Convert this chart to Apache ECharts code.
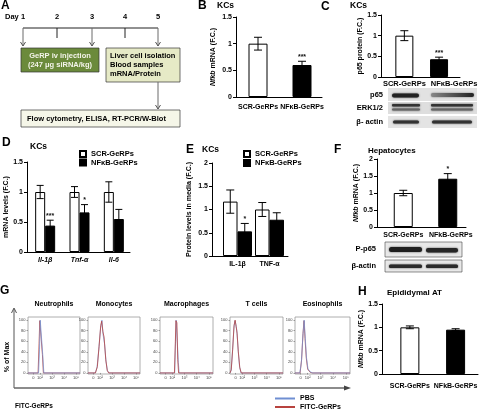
<!DOCTYPE html>
<html><head><meta charset="utf-8">
<script src="https://cdn.jsdelivr.net/npm/echarts@6/dist/echarts.min.js"></script>
<style>html,body{margin:0;padding:0;background:#fff}#c{width:480px;height:419px}</style>
</head><body><div id="c"></div>
<script>
const FONT = '"Liberation Sans", Arial, Helvetica, sans-serif';

// ---------------- DATA ----------------
const groupNames = ['SCR-GeRPs', 'NFκB-GeRPs'];
const groupNamesH = ['SCR-GeRPs', 'NFkB-GeRPs'];
const bMean = [1.0, 0.6], bErr = [0.12, 0.07], bSig = ['', '***'];
const cMean = [1.0, 0.43], cErr = [0.12, 0.05], cSig = ['', '***'];
const dCats = ['Il-1β', 'Tnf-α', 'Il-6'];
const dScr = [1.0, 1.0, 1.0], dScrErr = [0.11, 0.09, 0.17];
const dNfkb = [0.44, 0.66, 0.55], dNfkbErr = [0.09, 0.13, 0.16], dSig = ['***', '*', ''];
const eCats = ['IL-1β', 'TNF-α'];
const eScr = [1.17, 1.0], eScrErr = [0.25, 0.15];
const eNfkb = [0.53, 0.78], eNfkbErr = [0.17, 0.15], eSig = ['*', ''];
const fMean = [1.0, 1.42], fErr = [0.08, 0.15], fSig = ['', '*'];
const hMean = [1.0, 0.95], hErr = [0.03, 0.02], hSig = ['', ''];
const dayLabels = ['1', '2', '3', '4', '5'];
const cellTypes = ['Neutrophils', 'Monocytes', 'Macrophages', 'T cells', 'Eosinophils'];
const histTickPos = [1.45, 2, 3, 4, 5];
const histTickLabels = ['0', '10²', '10³', '10⁴', '10⁵'];
const histYTicks = [0, 20, 40, 60, 80, 100];
const histPBS = [
  [[1,0],[1.88,0],[1.96,45],[2.02,100],[2.16,98],[2.24,30],[2.32,0],[5.33,0]],
  [[1,0],[1.6,0],[1.75,10],[1.9,45],[2.05,85],[2.16,100],[2.26,72],[2.38,55],[2.5,22],[2.62,4],[2.75,0],[5.33,0]],
  [[1,0],[2.2,0],[2.27,60],[2.32,100],[2.42,97],[2.5,20],[2.56,0],[5.33,0]],
  [[1,0],[1.1,5],[1.2,40],[1.32,85],[1.4,99],[1.48,92],[1.56,80],[1.66,45],[1.78,12],[1.9,0],[5.33,0]],
  [[1,0],[1.38,0],[1.5,20],[1.62,70],[1.72,100],[1.8,70],[1.9,30],[2.02,8],[2.2,2],[2.4,0],[5.33,0]]
];
const histFITC = [
  [[1,0],[1.84,0],[1.92,55],[1.98,99],[2.12,100],[2.2,35],[2.28,0],[5.33,0]],
  [[1,0],[1.62,0],[1.78,12],[1.92,50],[2.06,90],[2.14,98],[2.24,78],[2.34,68],[2.48,25],[2.6,5],[2.72,0],[5.33,0]],
  [[1,0],[2.18,0],[2.25,55],[2.3,99],[2.38,95],[2.45,25],[2.52,0],[5.33,0]],
  [[1,0],[1.1,6],[1.22,45],[1.33,90],[1.42,100],[1.5,88],[1.58,75],[1.68,40],[1.8,10],[1.92,0],[5.33,0]],
  [[1,0],[1.4,0],[1.52,25],[1.63,75],[1.71,99],[1.79,65],[1.89,28],[2.0,7],[2.2,1],[2.4,0],[5.33,0]]
];

// ---------------- BUILD ----------------
const grid = [], xAxis = [], yAxis = [], series = [], legend = [], G = [];
const WHITE = '#ffffff', BLACK = '#000000';

function errRender(offset, sigs, cap) {
  return function (params, api) {
    const cat = api.value(0), m = api.value(1), e = api.value(2);
    const top = api.coord([cat, m + e]), bot = api.coord([cat, m - e]);
    const x = top[0] + offset;
    const st = { stroke: '#000', lineWidth: 1 };
    const ch = [
      { type: 'line', shape: { x1: x, y1: top[1], x2: x, y2: bot[1] }, style: st },
      { type: 'line', shape: { x1: x - cap, y1: top[1], x2: x + cap, y2: top[1] }, style: st },
      { type: 'line', shape: { x1: x - cap, y1: bot[1], x2: x + cap, y2: bot[1] }, style: st }
    ];
    const s = sigs[params.dataIndex];
    if (s) ch.push({ type: 'text', x: x, y: top[1] - 1, style: { text: s, fill: '#111', font: 'bold 7px ' + FONT, align: 'center', verticalAlign: 'bottom' } });
    return { type: 'group', children: ch };
  };
}

function barPanel(cfg) {
  const gi = grid.length;
  grid.push({ left: cfg.axisLeft, top: cfg.top, width: cfg.axisRight - cfg.axisLeft, height: cfg.height });
  xAxis.push({ gridIndex: gi, type: 'value', min: 0, max: 1, axisLine: { show: true, onZero: false, lineStyle: { color: '#000', width: 1 } },
    axisTick: { show: false }, axisLabel: { show: false }, splitLine: { show: false } });
  yAxis.push({ gridIndex: gi, type: 'value', min: 0, max: cfg.ymax, interval: 0.5,
    axisLine: { show: true, lineStyle: { color: '#000', width: 1 } },
    axisTick: { show: true, length: 3, lineStyle: { color: '#000' } },
    axisLabel: { fontFamily: FONT, fontWeight: 'bold', fontSize: 7, color: '#000', margin: 4 },
    splitLine: { show: false },
    name: cfg.yName, nameLocation: 'middle', nameGap: cfg.nameGap,
    nameTextStyle: { fontFamily: FONT, fontWeight: 'bold', fontSize: 7, color: '#000',
      rich: { i: { fontFamily: FONT, fontWeight: 'bold', fontStyle: 'italic', fontSize: 7, color: '#000' },
              n: { fontFamily: FONT, fontWeight: 'bold', fontSize: 7, color: '#000' } } } });
  const pi = grid.length;
  grid.push({ left: cfg.plotLeft, top: cfg.top, width: cfg.plotWidth, height: cfg.height });
  xAxis.push({ gridIndex: pi, type: 'category', data: cfg.cats, axisLine: { show: false }, axisTick: { show: false },
    axisLabel: Object.assign({ fontFamily: FONT, fontWeight: 'bold', fontSize: cfg.catFont, color: '#000', margin: cfg.catMargin,
      fontStyle: cfg.catItalic ? 'italic' : 'normal', interval: 0 }, cfg.catLabelExtra || {}) });
  yAxis.push({ gridIndex: pi, type: 'value', min: 0, max: cfg.ymax, show: false });
  cfg.series.forEach(s => {
    series.push({ type: 'bar', name: s.name, xAxisIndex: pi, yAxisIndex: pi, barWidth: cfg.barWidth, barGap: '0%',
      itemStyle: { color: s.colors[0], borderColor: '#000', borderWidth: 1 },
      data: s.values.map((v, i) => ({ value: v, itemStyle: { color: s.colors[i], borderColor: '#000', borderWidth: 1 } })) });
    series.push({ type: 'custom', xAxisIndex: pi, yAxisIndex: pi, z: 5, encode: { x: 0, y: 1 },
      renderItem: errRender(s.offset, s.sigs, cfg.cap),
      data: s.values.map((v, i) => [i, v, s.errs[i]]) });
  });
}

function shiftedLabels(size, pad) {
  return { formatter: (v, i) => i === 0 ? '{a|' + v + '}' : '{b|' + v + '}',
    rich: { a: { fontFamily: FONT, fontWeight: 'bold', fontSize: size, color: '#000' },
            b: { fontFamily: FONT, fontWeight: 'bold', fontSize: size, color: '#000', padding: [0, 0, 0, pad] } } };
}

// B
barPanel({ axisLeft: 236, axisRight: 322, top: 17, height: 80, ymax: 1.5, yName: '{i|Nfkb}{n| mRNA (F.C.)}', nameGap: 19,
  plotLeft: 236, plotWidth: 88, cats: groupNames, catFont: 7, catMargin: 7, barWidth: 19, cap: 4,
  series: [{ name: 'B', values: bMean, errs: bErr, sigs: bSig, colors: [WHITE, BLACK], offset: 0 }] });
// C
barPanel({ axisLeft: 381, axisRight: 460, top: 15, height: 62, ymax: 1.5, yName: 'p65 protein (F.C.)', nameGap: 17,
  plotLeft: 387, plotWidth: 71, cats: groupNames, catFont: 7.5, catMargin: 3, barWidth: 18, cap: 4,
  catLabelExtra: shiftedLabels(7.5, 30),
  series: [{ name: 'C', values: cMean, errs: cErr, sigs: cSig, colors: [WHITE, BLACK], offset: 0 }] });
// D
barPanel({ axisLeft: 27, axisRight: 130, top: 162, height: 90, ymax: 1.5, yName: 'mRNA levels (F.C.)', nameGap: 15,
  plotLeft: 28, plotWidth: 103, cats: dCats, catFont: 7, catMargin: 5, catItalic: true, barWidth: 10, cap: 3.5,
  series: [{ name: groupNames[0], values: dScr, errs: dScrErr, sigs: ['', '', ''], colors: [WHITE, WHITE, WHITE], offset: -5 },
           { name: groupNames[1], values: dNfkb, errs: dNfkbErr, sigs: dSig, colors: [BLACK, BLACK, BLACK], offset: 5 }] });
// E
barPanel({ axisLeft: 212, axisRight: 288, top: 163, height: 93, ymax: 2, yName: 'Protein levels in media (F.C.)', nameGap: 19,
  plotLeft: 221.5, plotWidth: 64, cats: eCats, catFont: 7, catMargin: 5, barWidth: 14.5, cap: 4,
  series: [{ name: groupNames[0], values: eScr, errs: eScrErr, sigs: ['', ''], colors: [WHITE, WHITE], offset: -7.25 },
           { name: groupNames[1], values: eNfkb, errs: eNfkbErr, sigs: eSig, colors: [BLACK, BLACK], offset: 7.25 }] });
// F
barPanel({ axisLeft: 377, axisRight: 466, top: 159, height: 68, ymax: 2, yName: '{i|Nfkb}{n| mRNA (F.C.)}', nameGap: 17,
  plotLeft: 381, plotWidth: 89, cats: groupNamesH, catFont: 7, catMargin: 5, barWidth: 19, cap: 4,
  catLabelExtra: shiftedLabels(7, 6),
  series: [{ name: 'F', values: fMean, errs: fErr, sigs: fSig, colors: [WHITE, BLACK], offset: 0 }] });
// H
barPanel({ axisLeft: 382, axisRight: 478, top: 304, height: 70, ymax: 1.5, yName: '{i|Nfkb}{n| mRNA (F.C.)}', nameGap: 12,
  plotLeft: 387, plotWidth: 93, cats: groupNamesH, catFont: 7, catMargin: 9, barWidth: 19, cap: 4,
  series: [{ name: 'H', values: hMean, errs: hErr, sigs: hSig, colors: [WHITE, BLACK], offset: 0 }] });

// G histograms
const histLayout = [[28, 52], [88, 52], [160, 53], [230, 53], [295, 55]];
histLayout.forEach((g, k) => {
  const gi = grid.length;
  grid.push({ left: g[0], top: 317, width: g[1], height: 57, show: true, borderColor: '#9a9a9a', borderWidth: 0.8, backgroundColor: 'rgba(0,0,0,0)' });
  xAxis.push({ gridIndex: gi, type: 'value', min: 1, max: 5.33, axisLine: { show: false }, splitLine: { show: false },
    axisTick: { show: true, customValues: histTickPos, length: 1.5, lineStyle: { color: '#666', width: 0.6 } },
    axisLabel: { customValues: histTickPos, formatter: v => histTickLabels[histTickPos.indexOf(v)], fontFamily: FONT, fontSize: 4, color: '#444', margin: 2 } });
  yAxis.push({ gridIndex: gi, type: 'value', min: -2, max: 106, axisLine: { show: false }, splitLine: { show: false },
    axisTick: { show: true, customValues: histYTicks, length: 1.5, lineStyle: { color: '#666', width: 0.6 } },
    axisLabel: { customValues: histYTicks, fontFamily: FONT, fontSize: 4, color: '#444', margin: 2.5 } });
  series.push({ type: 'line', name: 'FITC-GeRPs', xAxisIndex: gi, yAxisIndex: gi, data: histFITC[k], showSymbol: false,
    lineStyle: { color: '#b8433f', width: 0.8 }, itemStyle: { color: '#b8433f' }, z: (k === 0 || k === 4) ? 2 : 3 });
  series.push({ type: 'line', name: 'PBS', xAxisIndex: gi, yAxisIndex: gi, data: histPBS[k], showSymbol: false,
    lineStyle: { color: '#6f8fd2', width: 0.8, opacity: 0.9 }, itemStyle: { color: '#6f8fd2' }, z: (k === 0 || k === 4) ? 3 : 2 });
  G.push({ type: 'text', x: g[0] + g[1] / 2, y: 304, silent: true,
    style: { text: cellTypes[k], fill: '#000', font: 'bold 7px ' + FONT, align: 'center', verticalAlign: 'middle' } });
});

// Legends
const legText = { fontFamily: FONT, fontWeight: 'bold', fontSize: 7.5, color: '#000', lineHeight: 8 };
legend.push({ data: groupNames, left: 79, top: 150, orient: 'vertical', icon: 'rect', itemWidth: 6, itemHeight: 6, itemGap: 0.5, selectedMode: false, textStyle: legText, padding: 0 });
legend.push({ data: groupNames, left: 243, top: 150, orient: 'vertical', icon: 'rect', itemWidth: 6, itemHeight: 6, itemGap: 1, selectedMode: false, textStyle: legText, padding: 0 });
legend.push({ data: ['PBS', 'FITC-GeRPs'], left: 275, top: 395, orient: 'vertical', icon: 'rect', itemWidth: 20, itemHeight: 2, itemGap: 1.5, selectedMode: false,
  textStyle: { fontFamily: FONT, fontWeight: 'bold', fontSize: 7, color: '#000' }, padding: 0 });

// ---------------- GRAPHICS (labels, schematic, blots) ----------------
function txt(x, y, text, size, align, extra) {
  G.push({ type: 'text', x: x, y: y, silent: true, z: 10,
    style: Object.assign({ text: text, fill: '#000', font: 'bold ' + size + 'px ' + FONT, align: align || 'left', verticalAlign: 'middle' }, extra || {}) });
}
function ln(x1, y1, x2, y2, color, w) { G.push({ type: 'line', silent: true, shape: { x1, y1, x2, y2 }, style: { stroke: color, lineWidth: w } }); }
function rect(x, y, w, h, fill, stroke, lw, r, extra) {
  G.push({ type: 'rect', silent: true, shape: { x, y, width: w, height: h, r: r || 0 }, style: Object.assign({ fill: fill, stroke: stroke || null, lineWidth: lw || 0 }, extra || {}) });
}
function arrowDown(x, y1, y2) {
  ln(x, y1, x, y2, '#6a6a6a', 1);
  G.push({ type: 'polyline', silent: true, shape: { points: [[x - 2.5, y2 - 4], [x, y2], [x + 2.5, y2 - 4]] }, style: { stroke: '#555', fill: null, lineWidth: 1 } });
}

// panel letters & titles
txt(1, 6, 'A', 12); txt(198, 6, 'B', 12); txt(217, 5.5, 'KCs', 8.5);
txt(321, 7, 'C', 12); txt(350, 6, 'KCs', 8.5);
txt(2, 143, 'D', 12); txt(30, 147, 'KCs', 8.5);
txt(186, 150, 'E', 12); txt(202, 150, 'KCs', 8.5);
txt(334, 150, 'F', 12); txt(368, 151, 'Hepatocytes', 8);
txt(0, 291, 'G', 12);
txt(358, 292, 'H', 12); txt(387, 293, 'Epididymal AT', 8);

// Panel A schematic
const dayX = [23, 57, 92, 125, 158];
txt(5, 17, 'Day', 7.5);
dayLabels.forEach((d, i) => txt(dayX[i], 17, d, 7.5, 'center'));
ln(23, 28, 158, 28, '#222', 1);
ln(57, 28, 57, 38, '#222', 1); ln(125, 28, 125, 38, '#222', 1);
arrowDown(23, 28, 46); arrowDown(92, 28, 46); arrowDown(158, 28, 46);
rect(21, 48, 78, 24, '#6b8a3b', '#333', 0.7);
txt(60, 56, 'GeRP iv injection', 7.5, 'center', { fill: '#f4f4ea' });
txt(60, 64.5, '(247 μg siRNA/kg)', 7.5, 'center', { fill: '#f4f4ea' });
rect(106, 48, 74, 34, '#e6eac6', '#333', 0.7);
txt(110, 56, 'Liver cell isolation', 7.5); txt(110, 65, 'Blood samples', 7.5); txt(110, 74, 'mRNA/Protein', 7.5);
arrowDown(158, 82, 109);
rect(21, 110, 159, 17, '#f5f6e8', '#333', 0.7);
txt(27, 118.5, 'Flow cytometry, ELISA, RT-PCR/W-Blot', 7.5);

// C blot
txt(383, 95, 'p65', 7.5, 'right'); txt(383, 108, 'ERK1/2', 7.5, 'right'); txt(383, 122, 'β- actin', 7.5, 'right');
const blur = { shadowBlur: 2, shadowColor: 'rgba(0,0,0,0.7)' };
rect(388, 88, 89, 13, '#e2e2e2'); rect(388, 102, 89, 12, '#dedede'); rect(388, 116, 89, 12, '#e4e4e4');
rect(392, 93.5, 27, 4, '#222', null, 0, 2, blur);
G.push({ type: 'rect', silent: true, shape: { x: 431, y: 93, width: 43, height: 4, r: 2 },
  style: { fill: new echarts.graphic.LinearGradient(0, 0, 1, 0, [{ offset: 0, color: '#888' }, { offset: 1, color: '#222' }]), shadowBlur: 2, shadowColor: 'rgba(0,0,0,0.5)' } });
rect(392, 104, 28, 2.5, '#333', null, 0, 1, blur); rect(431, 104, 42, 2.5, '#333', null, 0, 1, blur);
rect(392, 108.5, 28, 2, '#666', null, 0, 1, blur); rect(431, 108.5, 42, 2, '#666', null, 0, 1, blur);
rect(393, 120.5, 26, 3, '#333', null, 0, 1.5, blur); rect(432, 120.5, 40, 3, '#333', null, 0, 1.5, blur);

// F blot
txt(376, 249, 'P-p65', 7.5, 'right'); txt(376, 266, 'β-actin', 7.5, 'right');
rect(385, 242, 77, 15, '#e8e8e8', '#444', 0.6); rect(385, 260, 77, 12, '#e8e8e8', '#444', 0.6);
rect(389, 247, 33, 5, '#1e1e1e', null, 0, 2.5, blur); rect(426, 248, 32, 4.5, '#262626', null, 0, 2.5, blur);
rect(389, 264.5, 33, 3.5, '#2a2a2a', null, 0, 1.5, blur); rect(426, 264.5, 32, 3.5, '#2a2a2a', null, 0, 1.5, blur);

// G axes and labels
ln(14, 388, 14, 309, '#555', 1);
G.push({ type: 'polyline', silent: true, shape: { points: [[11.5, 313], [14, 308], [16.5, 313]] }, style: { stroke: '#555', fill: null, lineWidth: 1 } });
ln(14, 388, 346, 388, '#666', 1.6);
G.push({ type: 'polygon', silent: true, shape: { points: [[344, 385.5], [351, 388], [344, 390.5]] }, style: { fill: '#444' } });
G.push({ type: 'text', x: 7, y: 357, rotation: Math.PI / 2, silent: true,
  style: { text: '% of Max', fill: '#000', font: 'bold 7px ' + FONT, align: 'center', verticalAlign: 'middle' } });
txt(15, 406, 'FITC-GeRPs', 6.5);

const chart = echarts.init(document.getElementById('c'));
chart.setOption({
  animation: false,
  backgroundColor: '#fff',
  textStyle: { fontFamily: FONT },
  grid, xAxis, yAxis, series, legend,
  graphic: { elements: G }
});
</script></body></html>
